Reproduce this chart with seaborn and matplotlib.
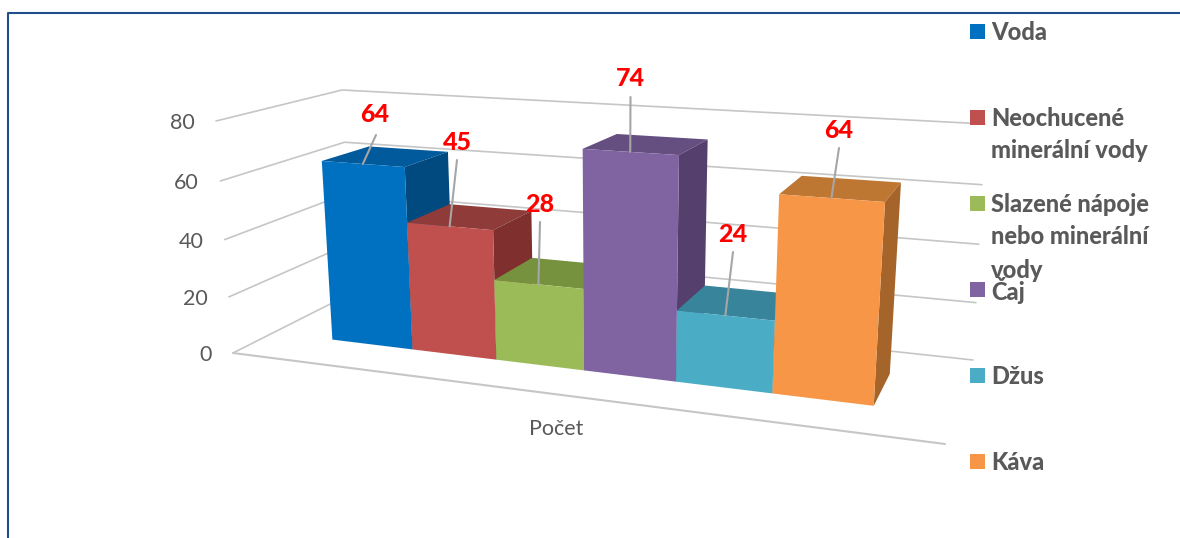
import numpy as np
import pandas as pd
import matplotlib
matplotlib.use("Agg")
import matplotlib.pyplot as plt
from matplotlib.patches import Polygon, Rectangle
from matplotlib.transforms import Transform
import seaborn as sns

# ---- data ----
categories = ["Voda", "Neochucené minerální vody", "Slazené nápoje nebo minerální vody", "Čaj", "Džus", "Káva"]
values = [64, 45, 28, 74, 24, 64]
y_ticks = [0, 20, 40, 60, 80]
legend_labels = ["Voda", "Neochucené\nminerální vody", "Slazené nápoje\nnebo minerální\nvody", "Čaj", "Džus", "Káva"]
axis_title = "Počet"

# ---- style ----
front_colors = ["#0070C0", "#C0504D", "#9BBB59", "#8064A2", "#4BACC6", "#F79646"]
top_colors = ["#005A9B", "#8F3B39", "#76923F", "#654E80", "#38849A", "#BE7733"]
side_colors = ["#004A80", "#7F302E", "#667F36", "#553F6C", "#2F6F82", "#A5652A"]
label_pos = [(375, 115), (457, 142), (540, 204), (630, 78), (733, 234), (839, 131)]
leader_start = [(376, 135), (457, 160), (540, 222), (630.5, 97), (733, 252), (839, 148)]
GRID = "#C6C6C6"
TXT = "#595959"
W, H = 1180, 538

sns.set_theme(style="white")
plt.rcParams["font.family"] = ["Lato", "Open Sans", "DejaVu Sans"]

# ---- camera calibrated on the reference picture: (category, value, depth) -> pixel ----
calib = [
    ((-.5, 0, 0), (332, 340)), ((.5, 0, 0), (412, 349)), ((.5, 64, 0), (405, 167)), ((-.5, 64, 0), (322, 161)),
    ((-.5, 64, 1), (368, 146)), ((.5, 64, 1), (447, 152)), ((5.5, 0, 0), (874, 406)), ((5.5, 64, 0), (885, 202)),
    ((4.5, 64, 0), (779, 195)), ((4.5, 0, 0), (773, 393)), ((4.5, 64, 1), (802, 176)), ((5.5, 64, 1), (901, 182)),
    ((5.5, 0, 1), (889, 375)), ((2.5, 74, 0), (583, 149)), ((3.5, 74, 0), (678, 155)), ((2.5, 74, 1), (617, 133)),
    ((3.5, 74, 1), (707, 139)), ((.5, 45, 0), (407, 223)), ((1.5, 45, 0), (494, 231)), ((1.5, 0, 0), (496, 359)),
    ((2.5, 28, 0), (583, 289)), ((1.5, 28, 0), (494, 280)), ((2.5, 0, 0), (584, 370)), ((3.5, 0, 0), (676, 381)),
    ((4.5, 24, 0), (776, 320)), ((3.5, 24, 0), (677, 311)), ((1.5, 45, 1), (531, 212)), ((.5, 45, 1), (453, 204)),
    ((1.5, 28, 1), (532, 258)),
]
A, b = [], []
for (x, y, z), (u, v) in calib:
    A.append([x, y, z, 1, 0, 0, 0, 0, -u * x, -u * y, -u * z]); b.append(u)
    A.append([0, 0, 0, 0, x, y, z, 1, -v * x, -v * y, -v * z]); b.append(v)
sol = np.linalg.lstsq(np.array(A, float), np.array(b, float), rcond=None)[0]
P = np.append(sol, 1.0).reshape(3, 4)


def project(x, y, z=0.0):
    q = P @ np.array([x, y, z, 1.0])
    return q[0] / q[2], q[1] / q[2]


class FrontPlane(Transform):
    input_dims = output_dims = 2
    is_affine = False
    has_inverse = False

    def transform_non_affine(self, xy):
        xy = np.asarray(xy, float)
        h = np.column_stack([xy, np.ones(len(xy))])
        q = h @ P[:, [0, 1, 3]].T
        return q[:, :2] / q[:, 2:]


def homography(corners):
    """Map (u, v) in the unit square to the given four pixel corners."""
    src = [(0, 0), (1, 0), (0, 1), (1, 1)]
    M, r = [], []
    for (x, y), (u, v) in zip(src, corners):
        M.append([x, y, 1, 0, 0, 0, -u * x, -u * y]); r.append(u)
        M.append([0, 0, 0, x, y, 1, -v * x, -v * y]); r.append(v)
    g = np.append(np.linalg.solve(np.array(M, float), np.array(r, float)), 1.0).reshape(3, 3)

    def f(x, y):
        q = g @ np.array([x, y, 1.0])
        return q[0] / q[2], q[1] / q[2]
    return f


# corners: value 0 near/far, value 80 near/far
left_wall = homography([(233, 353), (352, 293), (216, 121), (342, 90)])
back_wall = homography([(352, 293), (973, 360), (342, 90), (985, 124)])

fig = plt.figure(figsize=(W / 100, H / 100), dpi=100, facecolor="white")
ax_px = fig.add_axes([0, 0, 1, 1], zorder=0)
ax_px.set_xlim(0, W)
ax_px.set_ylim(H, 0)
ax_px.axis("off")
ax_bar = fig.add_axes([0, 0, 1, 1], zorder=1)
px = ax_px.transData

# walls
for t in y_ticks:
    f = t / y_ticks[-1]
    a, c, d = left_wall(0, f), left_wall(1, f), back_wall(1, f)
    ax_px.plot([a[0], c[0], d[0]], [a[1], c[1], d[1]], color=GRID, lw=1.2, solid_joinstyle="miter")
    ax_px.text(a[0] - 21.5, a[1] + 2, str(t), ha="right", va="center", color=TXT, fontsize=15.5)
f0 = left_wall(0, 0)
ax_px.plot([f0[0], 945], [f0[1], 444], color=GRID, lw=1.5)

# frame
ax_px.plot([7.5, 7.5, W], [H, 12.5, 12.5], color="#1F4E8C", lw=1.5)

# bars
df = pd.DataFrame({"Nápoj": categories, "Počet": values})
sns.barplot(data=df, x="Nápoj", y="Počet", hue="Nápoj", hue_order=categories, order=categories,
            palette=front_colors, width=1, legend=False, saturation=1, ax=ax_bar)
ax_bar.axis("off")
front = FrontPlane() + px
bars = [p for c in ax_bar.containers for p in c]
for i, bar in enumerate(bars):
    x0, x1, v = bar.get_x(), bar.get_x() + bar.get_width(), bar.get_height()
    bar.set_transform(front)
    bar.set_clip_on(False)
    bar.set_edgecolor("none")
    bar.set_linewidth(0)
    bar.set_zorder(3 + 3 * i + 2)
    top = [project(x0, v, 0), project(x1, v, 0), project(x1, v, 1), project(x0, v, 1)]
    side = [project(x1, 0, 0), project(x1, v, 0), project(x1, v, 1), project(x1, 0, 1)]
    ax_bar.add_patch(Polygon(top, closed=True, fc=top_colors[i], ec="none", transform=px, clip_on=False, zorder=3 + 3 * i))
    ax_bar.add_patch(Polygon(side, closed=True, fc=side_colors[i], ec="none", transform=px, clip_on=False, zorder=3 + 3 * i + 1))
    tip = project((x0 + x1) / 2, v, 0)
    ax_bar.plot([leader_start[i][0], tip[0]], [leader_start[i][1], tip[1]], color="#A6A6A6", lw=1.5,
                transform=px, clip_on=False, zorder=40)
    ax_bar.text(*label_pos[i], str(values[i]), color="#FF0000", fontweight=900, fontsize=18, ha="center",
                va="center", transform=px, zorder=41)
ax_bar.set_xlim(-.5, 5.5)

ax_bar.text(556, 429, axis_title, color=TXT, fontsize=15.5, ha="center", va="center", transform=px, zorder=41)

# legend
for i, lab in enumerate(legend_labels):
    yc = 31 + 86 * i
    ax_bar.add_patch(Rectangle((970, yc - 7.5), 15, 15, fc=front_colors[i], ec="none", transform=px,
                               clip_on=False, zorder=42))
    for k, line in enumerate(lab.split("\n")):
        ax_bar.text(991, yc + 1 + 33 * k, line, color=TXT, fontweight=900, fontsize=17, ha="left", va="center",
                    transform=px, zorder=43)

fig.savefig("out.png", dpi=100, facecolor="white")
